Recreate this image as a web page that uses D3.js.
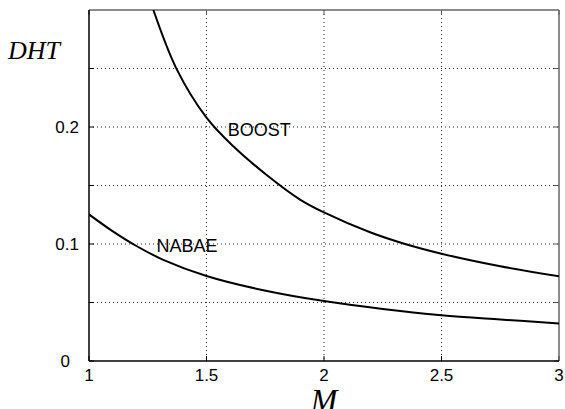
<!DOCTYPE html>
<html><head><meta charset="utf-8">
<script src="https://cdn.jsdelivr.net/npm/d3@7"></script>
<style>body{margin:0;background:#fff}svg{display:block}</style>
</head><body>
<svg id="c" width="565" height="409"></svg>
<script>
const boostM = [1.274,1.373,1.5,1.614,1.756,1.898,2,2.196,2.345,2.5,2.75,3];
const boostV = [0.300,0.2495,0.208,0.1835,0.159,0.138,0.127,0.110,0.100,0.0917,0.081,0.0724];
const nabaeM = [1,1.1,1.2,1.316,1.5,1.742,2,2.25,2.5,2.75,3];
const nabaeV = [0.1253,0.1110,0.0985,0.0865,0.0727,0.0605,0.0512,0.0445,0.0392,0.0355,0.0321];
const xTicks = [1,1.5,2,2.5,3];
const xTickLabels = ["1","1.5","2","2.5","3"];
const yGrid = [0.05,0.1,0.15,0.2,0.25];
const yTicks = [0,0.1,0.2];
const yTickLabels = ["0","0.1","0.2"];
const seriesNames = ["BOOST","NABAE"];

const svg = d3.select("#c");
const L=89,R=559,T=10,B=361;
const x = d3.scaleLinear().domain([1,3]).range([L,R]);
const y = d3.scaleLinear().domain([0,0.3]).range([B,T]);

svg.append("rect").attr("width",565).attr("height",409).attr("fill","#fff");
svg.append("defs").append("clipPath").attr("id","cp").append("rect")
  .attr("x",L).attr("y",T).attr("width",R-L).attr("height",B-T);

// grid
const g = svg.append("g");
g.selectAll("line.vg").data(xTicks.slice(1,-1)).join("line")
  .attr("x1",d=>x(d)).attr("x2",d=>x(d)).attr("y1",T).attr("y2",B)
  .attr("stroke","#222").attr("stroke-width",1).attr("stroke-dasharray","1,3");
g.selectAll("line.hg").data(yGrid).join("line")
  .attr("x1",L).attr("x2",R).attr("y1",d=>y(d)).attr("y2",d=>y(d))
  .attr("stroke","#222").attr("stroke-width",1).attr("stroke-dasharray","1,3");

// ticks (inward)
const tk = svg.append("g").attr("stroke","#000").attr("stroke-width",1);
[0,...yGrid].forEach(v=>{
  tk.append("line").attr("x1",L).attr("x2",L+5).attr("y1",y(v)).attr("y2",y(v));
  tk.append("line").attr("x1",R).attr("x2",R-5).attr("y1",y(v)).attr("y2",y(v)).attr("stroke","#555");
});
xTicks.forEach(v=>{
  tk.append("line").attr("x1",x(v)).attr("x2",x(v)).attr("y1",B).attr("y2",B-5);
  tk.append("line").attr("x1",x(v)).attr("x2",x(v)).attr("y1",T).attr("y2",T+5).attr("stroke","#555");
});

// frame
svg.append("line").attr("x1",L).attr("x2",R).attr("y1",T).attr("y2",T).attr("stroke","#666").attr("stroke-width",1.5);
svg.append("line").attr("x1",R).attr("x2",R).attr("y1",T).attr("y2",B).attr("stroke","#666").attr("stroke-width",1.5);
svg.append("line").attr("x1",L).attr("x2",R).attr("y1",B).attr("y2",B).attr("stroke","#000").attr("stroke-width",1.5);
svg.append("line").attr("x1",L).attr("x2",L).attr("y1",T).attr("y2",B).attr("stroke","#000").attr("stroke-width",1.5);

// curves
const line = d3.line().x(d=>x(d[0])).y(d=>y(d[1])).curve(d3.curveCatmullRom.alpha(0.5));
const curves = svg.append("g").attr("clip-path","url(#cp)");
curves.append("path").datum(d3.zip(boostM,boostV)).attr("d",line)
  .attr("fill","none").attr("stroke","#000").attr("stroke-width",2);
curves.append("path").datum(d3.zip(nabaeM,nabaeV)).attr("d",line)
  .attr("fill","none").attr("stroke","#000").attr("stroke-width",2);

// tick labels
const font = "Liberation Sans, Arial, sans-serif";
svg.selectAll("text.xl").data(xTicks).join("text")
  .attr("x",d=>x(d)).attr("y",381).attr("text-anchor","middle")
  .attr("font-family",font).attr("font-size",17).text((d,i)=>xTickLabels[i]);
svg.selectAll("text.yl").data(yTicks).join("text")
  .attr("x",(d,i)=>i===0?70:79).attr("y",d=>y(d)+6).attr("text-anchor","end")
  .attr("font-family",font).attr("font-size",17).text((d,i)=>yTickLabels[i]);

// series labels
svg.append("text").attr("x",x(1.59)).attr("y",y(0.2)+9).attr("font-family",font).attr("font-size",18).text(seriesNames[0]);
svg.append("text").attr("x",x(1.287)).attr("y",y(0.1)+8).attr("font-family",font).attr("font-size",18).text(seriesNames[1]);

// axis titles
const serif = "Liberation Serif, Times New Roman, serif";
svg.append("text").attr("x",8).attr("y",59).attr("font-family",serif).attr("font-style","italic")
  .attr("font-size",26).text("DHT");
svg.append("text").attr("x",x(2)).attr("y",411).attr("text-anchor","middle").attr("font-family",serif)
  .attr("font-style","italic").attr("font-size",32).text("M");
</script>
</body></html>
